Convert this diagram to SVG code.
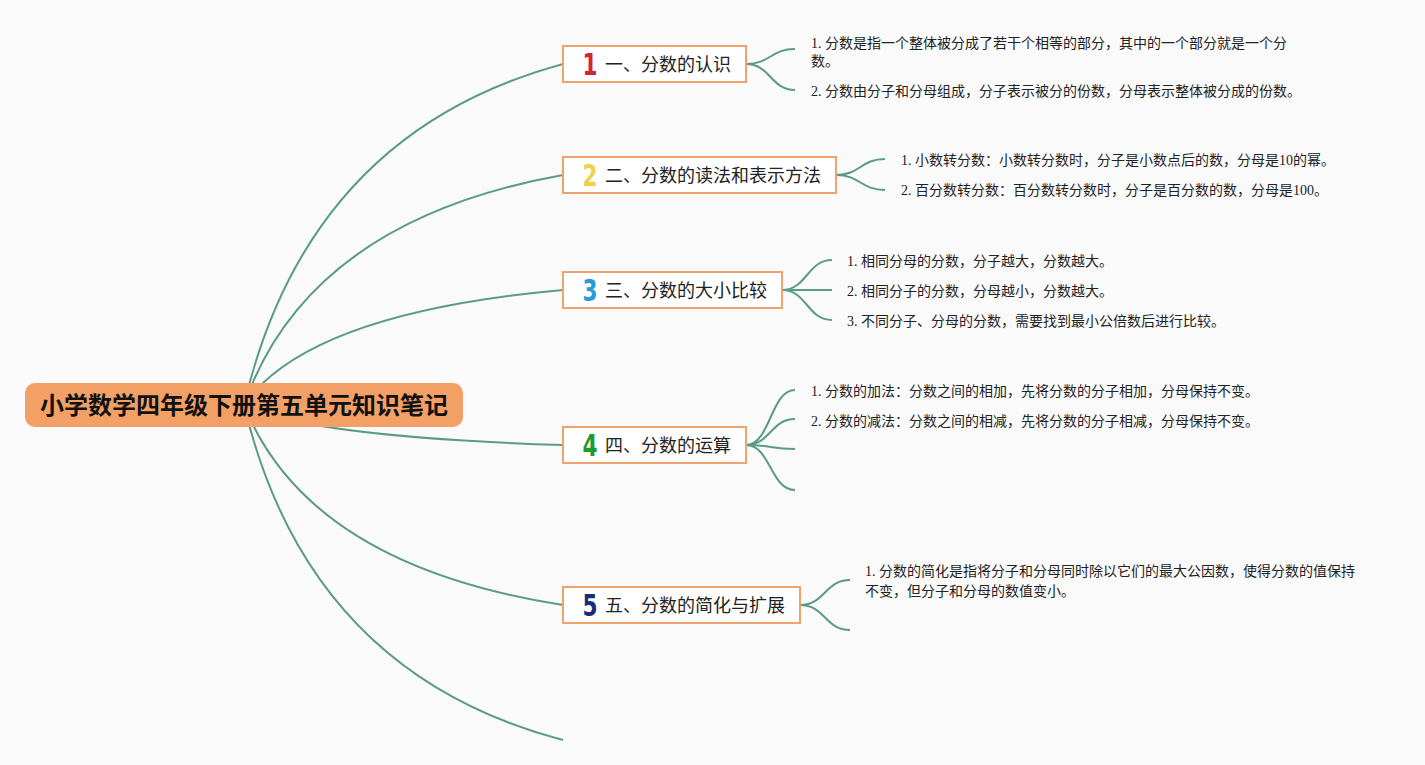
<svg xmlns="http://www.w3.org/2000/svg" width="1425" height="765" viewBox="0 0 1425 765">
<style>
.bg{fill:#fafafa}
.ln{fill:none;stroke:#5b9a86;stroke-width:2}
.root rect{fill:#f2a066}
.root text{font-family:"Noto Sans CJK SC",sans-serif;font-weight:bold;font-size:24px;fill:#111;text-anchor:middle}
.node rect{fill:#ffffff;stroke:#eea36f;stroke-width:2}
.node .t{font-family:"Noto Sans CJK SC",sans-serif;font-size:18px;fill:#222}
.node .n{font-family:"DejaVu Sans",sans-serif;font-weight:bold;font-size:30px;text-anchor:middle}
.leaf{font-family:"Liberation Serif","Noto Sans CJK SC",serif;font-size:14px;fill:#222}
</style>
<rect class="bg" x="0" y="0" width="1425" height="765"/>
<g id="connectors">
<path class="ln" d="M244,405 Q307.8,133 563,64"/>
<path class="ln" d="M244,405 Q307.8,221 563,175"/>
<path class="ln" d="M244,405 Q307.8,313 563,290"/>
<path class="ln" d="M244,405 Q307.8,437 563,445"/>
<path class="ln" d="M244,405 Q307.8,565 563,605"/>
<path class="ln" d="M244,405 Q307.8,673 563,740"/>
<path class="ln" d="M746,64 C770.5,64 770.5,49 795,49"/>
<path class="ln" d="M746,64 C770.5,64 770.5,90 795,90"/>
<path class="ln" d="M836,175 C860.5,175 860.5,159 885,159"/>
<path class="ln" d="M836,175 C860.5,175 860.5,190 885,190"/>
<path class="ln" d="M782,290 C807,290 807,260 832,260"/>
<path class="ln" d="M782,290 L832,290"/>
<path class="ln" d="M782,290 C807,290 807,320 832,320"/>
<path class="ln" d="M746,445 C770.5,445 770.5,390 795,390"/>
<path class="ln" d="M746,445 C770.5,445 770.5,419 795,419"/>
<path class="ln" d="M746,445 C770.5,445 770.5,449 795,449"/>
<path class="ln" d="M746,445 C770.5,445 770.5,490 795,490"/>
<path class="ln" d="M800,605 C825,605 825,580 850,580"/>
<path class="ln" d="M800,605 C825,605 825,630 850,630"/>
</g>
<g id="root" class="root">
<rect x="25" y="383" width="438" height="44" rx="10"/>
<text x="244" y="413.5">小学数学四年级下册第五单元知识笔记</text>
</g>
<g id="n1" class="node">
<rect x="563" y="46" width="183" height="36"/>
<text class="n" transform="translate(590,75) scale(0.72,1)" fill="#d42236">1</text>
<text class="t" x="605" y="70.5">一、分数的认识</text>
</g>
<g id="n2" class="node">
<rect x="563" y="157" width="273" height="36"/>
<text class="n" transform="translate(590,186) scale(0.72,1)" fill="#f1d04e">2</text>
<text class="t" x="605" y="181.5">二、分数的读法和表示方法</text>
</g>
<g id="n3" class="node">
<rect x="563" y="272" width="219" height="36"/>
<text class="n" transform="translate(590,301) scale(0.72,1)" fill="#2b9ad9">3</text>
<text class="t" x="605" y="296.5">三、分数的大小比较</text>
</g>
<g id="n4" class="node">
<rect x="563" y="427" width="183" height="36"/>
<text class="n" transform="translate(590,456) scale(0.72,1)" fill="#1e9b2c">4</text>
<text class="t" x="605" y="451.5">四、分数的运算</text>
</g>
<g id="n5" class="node">
<rect x="563" y="587" width="237" height="36"/>
<text class="n" transform="translate(590,616) scale(0.72,1)" fill="#1c2a7e">5</text>
<text class="t" x="605" y="611.5">五、分数的简化与扩展</text>
</g>
<g id="leaves">
<text class="leaf" x="811" y="48">1. 分数是指一个整体被分成了若干个相等的部分，其中的一个部分就是一个分</text>
<text class="leaf" x="811" y="66">数。</text>
<text class="leaf" x="811" y="96">2. 分数由分子和分母组成，分子表示被分的份数，分母表示整体被分成的份数。</text>
<text class="leaf" x="901" y="165">1. 小数转分数：小数转分数时，分子是小数点后的数，分母是10的幂。</text>
<text class="leaf" x="901" y="195">2. 百分数转分数：百分数转分数时，分子是百分数的数，分母是100。</text>
<text class="leaf" x="847" y="266">1. 相同分母的分数，分子越大，分数越大。</text>
<text class="leaf" x="847" y="296">2. 相同分子的分数，分母越小，分数越大。</text>
<text class="leaf" x="847" y="326">3. 不同分子、分母的分数，需要找到最小公倍数后进行比较。</text>
<text class="leaf" x="811" y="396">1. 分数的加法：分数之间的相加，先将分数的分子相加，分母保持不变。</text>
<text class="leaf" x="811" y="426">2. 分数的减法：分数之间的相减，先将分数的分子相减，分母保持不变。</text>
<text class="leaf" x="865" y="576">1. 分数的简化是指将分子和分母同时除以它们的最大公因数，使得分数的值保持</text>
<text class="leaf" x="865" y="596">不变，但分子和分母的数值变小。</text>
</g>
</svg>
